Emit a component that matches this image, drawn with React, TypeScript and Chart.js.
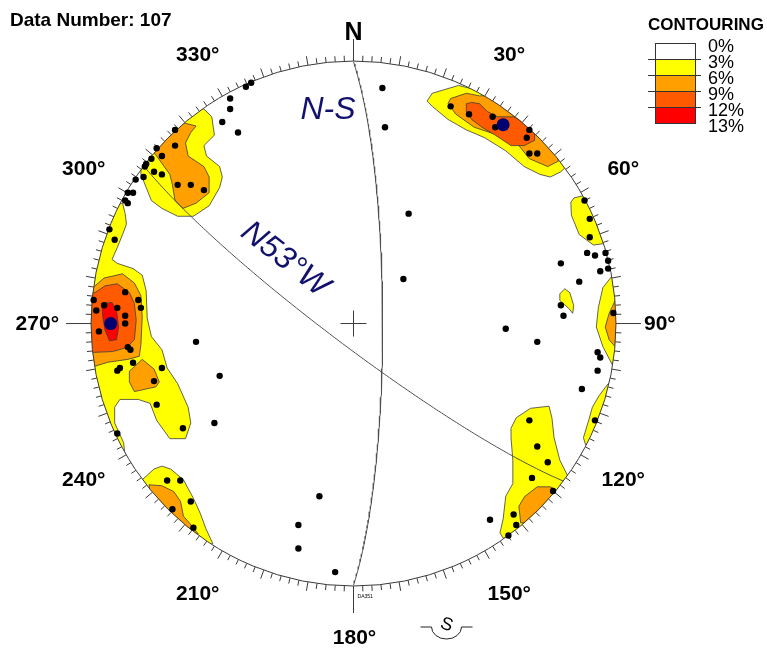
import React, { useEffect, useRef } from 'react';
import { Chart, registerables } from 'chart.js';

Chart.register(...registerables);

// ---------- data (projection units: primitive circle radius = 100, x = East, y = North) ----------
const TITLE = 'Data Number: 107';
const DIRECTION_LABELS = [30, 60, 120, 150, 210, 240, 300, 330];
const LEVEL_LABELS = ['0%', '3%', '6%', '9%', '12%', '13%'];
const LEVEL_COLORS = ['#ffffff', '#ffff00', '#ffa000', '#ff5a00', '#ff0000'];

const PLANE_NAMES = ['N-S', 'N53°W'];
const PLANE_DIP_DIRS = [90, 217];
const PLANE_DIPS = [81, 83];

const POLES: [number, number][] = [
  [-41, 90.5], [-39, 92], [-47, 86], [-47, 82], [-50, 77], [-44, 73], [-68, 74], [-68, 68], [-75, 67], [-73, 64],
  [-77, 63], [-79, 61], [-79.5, 60], [-76, 58], [-73, 57], [-80, 56], [-67, 53], [-62, 53], [-57, 51], [-83, 55],
  [-84, 50], [-86, 50], [-87, 47], [-86, 46], [11, 90], [12, 75], [37, 83], [44, 80], [53, 79], [54, 75],
  [67, 74], [66, 71], [67, 65], [70, 65], [21, 42], [88, 47], [90, 40], [90, 33], [89, 27], [92, 26],
  [96, 27], [79, 23], [97, 24], [97, 21], [94, 20], [86, 16], [79, 7], [80, 3], [99, 4], [58, -2],
  [70, -7], [93, -11], [94, -13], [93, -18], [87, -25], [67, -37], [92, -37], [70, -47], [74, -53], [68, -59],
  [76, -64], [61, -73], [52, -75], [62, -77], [59, -81], [-93, 36], [-91, 32], [-87, 12], [-99, 9], [-82, 9],
  [-81, 6], [-95, 7], [-98, 5], [-90, 6], [-87, 3], [-87, 0], [-97, -3], [-86, -9], [-85, -10], [-84, -15],
  [-89, -17], [-90, -18], [-73, -17], [-76, -22], [-60, -7], [-51, -20], [-75, -31], [-53, -38], [-65, -40], [-90, -42],
  [-71, -60], [-66, -60], [-62, -68], [-69, -71], [-61, -78], [-13, -66], [-21, -77], [-21, -86], [-7, -95], [19, 17],
];

const MEAN_POLES: [number, number][] = [[57, 76], [-92.5, 0]];

const CONTOUR_3: [number, number][][] = [
  [[44, 90], [40, 91], [30, 88], [28, 85], [30, 83], [36, 78], [43, 74], [50, 71], [58, 66], [65, 60], [71, 57], [75, 56], [79, 58], [81, 60], [74, 88]],
  [[-57, 82], [-54, 79], [-53, 72], [-57, 68], [-56, 64], [-51, 60], [-50, 56], [-51, 52], [-55, 45], [-61, 41], [-67, 41], [-73, 44], [-77, 47], [-79, 52], [-81, 57], [-81, 81]],
  [[-88, 46], [-87, 42], [-86.5, 38], [-88, 34], [-90, 29], [-92, 24.5], [-90, 23], [-84, 21], [-80.5, 18.5], [-79, 12.5], [-78.6, 2], [-77, -5], [-73, -10], [-71, -17], [-67, -23], [-63, -32], [-62, -38], [-64, -44], [-70, -44], [-75, -37], [-77.5, -30.5], [-82, -29], [-89, -29], [-91, -32], [-91, -38], [-87.6, -45.5], [-87, -51], [-113, -41], [-120, 0], [-113, 41]],
  [[84, 48], [88, 49], [104, 48.6], [109, 35.5], [95, 30.5], [91.4, 30], [86, 34], [83, 41.4], [82.8, 46.3]],
  [[98.5, 18.2], [95, 13.7], [93.3, 6.2], [92.5, -1.3], [95, -8.8], [98.9, -16.3], [115, -17], [115, 18]],
  [[78.6, 11.4], [80.5, 13.3], [82.4, 11.8], [83.9, 6.9], [83.5, 3.9], [82, 5.8], [78.6, 8.8]],
  [[97, -23], [93.6, -27.5], [91, -32], [89.5, -37.3], [87.6, -43.6], [88.4, -46.3], [104, -52], [112, -26]],
  [[60, -40], [62, -36], [67.4, -32.4], [74.5, -31.6], [75.6, -36.1], [76.4, -43.6], [78.6, -52.2], [81.5, -58], [83.4, -83.4], [57, -82], [55.8, -80], [57, -74.7], [58, -66], [60.7, -61.2], [60.7, -52.2], [60, -43.6]],
  [[-80.5, -59.7], [-76, -55.6], [-73, -54.5], [-69.7, -55.6], [-64.8, -59.7], [-61, -66.8], [-58.4, -72.5], [-56.2, -78.5], [-53.6, -84.1], [-75.8, -90.4]],
];

const CONTOUR_6: [number, number][][] = [
  [[48, 87], [43, 88], [37, 86], [36, 84], [39, 80], [46, 75], [55, 72], [63, 68], [67, 63], [74, 60], [78, 62], [74, 88]],
  [[-60, 75.5], [-62, 73], [-64, 69], [-63, 64], [-57, 60], [-55, 56], [-55, 50], [-60, 46], [-65, 44], [-68, 47], [-69, 53], [-70, 57], [-75, 64], [-80, 70], [-70, 78]],
  [[-99, 14], [-95, 17.4], [-88, 19], [-83.5, 15.5], [-81, 10.7], [-80.5, 2.4], [-81, -8], [-81.6, -12.5], [-86, -13.7], [-93.6, -14.8], [-98.5, -16.3], [-115, -17], [-115, 15]],
  [[-85.4, -18.2], [-80.5, -13.7], [-76, -17.4], [-74, -22.3], [-75.3, -24.2], [-83.5, -26], [-85.4, -22.3]],
  [[100, 9.5], [97.4, 3.9], [95.9, -1.3], [97.4, -6.2], [100, -9.2], [112, -9], [112, 10]],
  [[63.7, -76.2], [63, -69.8], [65.2, -66.1], [70, -62.4], [74.9, -62.4], [76.4, -63.1], [85, -75]],
  [[-77.9, -61.6], [-73, -62], [-68.5, -64.2], [-65.9, -68], [-64.8, -73.6], [-62.2, -76.6], [-59.2, -80.3], [-75, -88]],
];

const CONTOUR_9: [number, number][][] = [
  [[43, 84], [45, 84.5], [48, 84], [51, 81], [55, 79], [61, 79], [65, 77], [69, 73], [69, 70], [65, 68], [60, 68], [54, 72], [49, 75], [45, 78], [43, 81]],
  [[-98.5, 11.8], [-94.7, 14.4], [-90, 15.2], [-85.4, 11.8], [-83.5, 7.7], [-82.8, 1.3], [-83.5, -6.2], [-86.5, -9.2], [-91.8, -10.7], [-98.5, -11], [-112, -11], [-112, 12]],
];

const CONTOUR_12: [number, number][][] = [
  [[-95.9, 7.7], [-92, 8], [-90.3, 5], [-89.5, -1.3], [-90.3, -6.2], [-93, -6.6], [-94.7, -2.4], [-95.5, 2.4]],
];

// ---------- helpers ----------
const D2R = Math.PI / 180;
const FONT = '"Liberation Sans", Arial, Helvetica, sans-serif';

// equal-area (Schmidt) lower-hemisphere trace of a plane
function greatCircle(dipDir: number, dip: number) {
  const pts: { x: number; y: number }[] = [];
  const s = (dipDir - 90) * D2R;
  const dd = dipDir * D2R;
  const d = dip * D2R;
  for (let t = 0; t <= 180; t += 1) {
    const tr = t * D2R;
    const n = Math.cos(tr) * Math.cos(s) + Math.sin(tr) * Math.cos(dd) * Math.cos(d);
    const e = Math.cos(tr) * Math.sin(s) + Math.sin(tr) * Math.sin(dd) * Math.cos(d);
    const z = Math.sin(tr) * Math.sin(d);
    const plunge = Math.asin(Math.max(-1, Math.min(1, z)));
    const trend = Math.atan2(e, n);
    const r = 100 * Math.SQRT2 * Math.sin((Math.PI / 2 - plunge) / 2);
    pts.push({ x: r * Math.sin(trend), y: r * Math.cos(trend) });
  }
  return pts;
}

const stereoPlugin = {
  id: 'stereo',
  beforeDatasetsDraw(chart: any) {
    const ctx: CanvasRenderingContext2D = chart.ctx;
    const xs = chart.scales.x;
    const ys = chart.scales.y;
    const px = (v: number) => xs.getPixelForValue(v);
    const py = (v: number) => ys.getPixelForValue(v);
    const cx = px(0);
    const cy = py(0);
    const R = px(100) - cx;

    // contours, clipped to the primitive circle
    ctx.save();
    ctx.beginPath();
    ctx.arc(cx, cy, R, 0, Math.PI * 2);
    ctx.clip();
    [CONTOUR_3, CONTOUR_6, CONTOUR_9, CONTOUR_12].forEach((level, i) => {
      level.forEach((poly) => {
        ctx.beginPath();
        poly.forEach(([x, y], k) => (k ? ctx.lineTo(px(x), py(y)) : ctx.moveTo(px(x), py(y))));
        ctx.closePath();
        ctx.fillStyle = LEVEL_COLORS[i + 1];
        ctx.fill();
        ctx.strokeStyle = '#3c3c3c';
        ctx.lineWidth = 0.8;
        ctx.stroke();
      });
    });
    ctx.restore();

    // primitive circle + ticks
    ctx.save();
    ctx.strokeStyle = '#3a3a3a';
    ctx.lineWidth = 1;
    ctx.beginPath();
    ctx.arc(cx, cy, R, 0, Math.PI * 2);
    ctx.stroke();
    ctx.beginPath();
    for (let a = 0; a < 360; a += 2) {
      const sx = Math.sin(a * D2R);
      const sy = -Math.cos(a * D2R);
      let len = a % 10 === 0 ? 9 : 5.5;
      if (a === 0) len = 22;
      else if (a === 90 || a === 270) len = 25;
      else if (a === 180) len = 27;
      ctx.moveTo(cx + sx * R, cy + sy * R);
      ctx.lineTo(cx + sx * (R + len), cy + sy * (R + len));
    }
    ctx.stroke();

    // centre cross
    ctx.beginPath();
    ctx.moveTo(cx - 13, cy);
    ctx.lineTo(cx + 13, cy);
    ctx.moveTo(cx, cy - 13);
    ctx.lineTo(cx, cy + 13);
    ctx.stroke();
    ctx.restore();
  },
  afterDatasetsDraw(chart: any) {
    const ctx: CanvasRenderingContext2D = chart.ctx;
    const xs = chart.scales.x;
    const ys = chart.scales.y;
    const px = (v: number) => xs.getPixelForValue(v);
    const py = (v: number) => ys.getPixelForValue(v);
    const cx = px(0);
    const cy = py(0);
    const R = px(100) - cx;

    ctx.save();
    ctx.fillStyle = '#000';
    // N
    ctx.font = `bold 25px ${FONT}`;
    ctx.textAlign = 'center';
    ctx.textBaseline = 'alphabetic';
    ctx.fillText('N', cx, cy - R - 21);

    // direction labels
    ctx.font = `bold 21px ${FONT}`;
    ctx.textBaseline = 'middle';
    DIRECTION_LABELS.forEach((a) => {
      const r = R + 49;
      ctx.textAlign = 'center';
      ctx.fillText(`${a}°`, cx + Math.sin(a * D2R) * r, cy - Math.cos(a * D2R) * r + 1);
    });
    ctx.textAlign = 'left';
    ctx.fillText('90°', cx + R + 28, cy + 1);
    ctx.textAlign = 'right';
    ctx.fillText('270°', cx - R - 32, cy + 1);
    ctx.textAlign = 'center';
    ctx.fillText('180°', cx + 1, cy + R + 52);

    // tiny stamp near south
    ctx.font = `5px ${FONT}`;
    ctx.textAlign = 'left';
    ctx.fillText('DA351', cx + 4, cy + R + 11);

    // S symbol
    ctx.strokeStyle = '#222';
    ctx.lineWidth = 1;
    const sx0 = cx + 93;
    const sy0 = cy + R + 41;
    ctx.beginPath();
    ctx.moveTo(sx0 - 26, sy0);
    ctx.lineTo(sx0 - 15, sy0);
    ctx.ellipse(sx0, sy0, 15, 12, 0, Math.PI, 0, true);
    ctx.lineTo(sx0 + 26, sy0);
    ctx.stroke();
    ctx.save();
    ctx.translate(sx0, sy0 - 2);
    ctx.rotate(0.35);
    ctx.font = `18px ${FONT}`;
    ctx.textAlign = 'center';
    ctx.textBaseline = 'middle';
    ctx.fillText('S', 0, 0);
    ctx.restore();

    // plane labels
    ctx.fillStyle = '#12126e';
    ctx.font = `italic 32px ${FONT}`;
    ctx.textAlign = 'center';
    ctx.textBaseline = 'middle';
    ctx.fillText(PLANE_NAMES[0], px(-9.7), py(81.5));
    ctx.save();
    ctx.translate(px(-26.2), py(24.5));
    ctx.rotate(38 * D2R);
    ctx.fillText(PLANE_NAMES[1], 0, 0);
    ctx.restore();

    // title
    ctx.fillStyle = '#000';
    ctx.font = `bold 19px ${FONT}`;
    ctx.textAlign = 'left';
    ctx.textBaseline = 'alphabetic';
    ctx.fillText(TITLE, 10, 26);

    // legend
    ctx.font = `bold 17px ${FONT}`;
    ctx.fillText('CONTOURING', 648, 30);
    const bx = 655;
    const bw = 40;
    const top = 43;
    const rh = 16;
    LEVEL_COLORS.forEach((c, i) => {
      ctx.fillStyle = c;
      ctx.fillRect(bx, top + i * rh, bw, rh);
    });
    ctx.strokeStyle = '#333';
    ctx.lineWidth = 1;
    ctx.strokeRect(bx + 0.5, top + 0.5, bw, rh * LEVEL_COLORS.length);
    ctx.beginPath();
    for (let i = 1; i < LEVEL_COLORS.length; i++) {
      ctx.moveTo(648, top + i * rh + 0.5);
      ctx.lineTo(701, top + i * rh + 0.5);
    }
    ctx.stroke();
    ctx.fillStyle = '#000';
    ctx.font = `18px ${FONT}`;
    ctx.textBaseline = 'middle';
    LEVEL_LABELS.forEach((t, i) => {
      ctx.fillText(t, 708, top + 4 + i * rh);
    });
    ctx.restore();
  },
};

const W = 767;
const H = 651;
const UNIT = 2.67; // pixels per projection unit

export default function App() {
  const ref = useRef<HTMLCanvasElement>(null);

  useEffect(() => {
    if (!ref.current) return;
    const cxPx = 353;
    const cyPx = 323.5;
    const chart = new Chart(ref.current, {
      type: 'scatter',
      data: {
        datasets: [
          {
            label: 'Mean poles',
            data: MEAN_POLES.map(([x, y]) => ({ x, y })),
            pointRadius: 6.5,
            pointBackgroundColor: '#000070',
            pointBorderWidth: 0,
            showLine: false,
            order: 0,
          },
          {
            label: 'Poles',
            data: POLES.map(([x, y]) => ({ x, y })),
            pointRadius: 3.2,
            pointBackgroundColor: '#000000',
            pointBorderWidth: 0,
            showLine: false,
            order: 1,
          },
          ...PLANE_NAMES.map((name, i) => ({
            label: name,
            data: greatCircle(PLANE_DIP_DIRS[i], PLANE_DIPS[i]),
            showLine: true,
            pointRadius: 0,
            borderColor: '#505050',
            borderWidth: 1,
            fill: false,
            tension: 0,
            order: 2,
          })),
        ],
      },
      options: {
        animation: false,
        responsive: false,
        events: [],
        layout: { padding: 0 },
        plugins: { legend: { display: false }, tooltip: { enabled: false } },
        scales: {
          x: { type: 'linear', display: false, min: -cxPx / UNIT, max: (W - cxPx) / UNIT },
          y: { type: 'linear', display: false, min: -(H - cyPx) / UNIT, max: cyPx / UNIT },
        },
      },
      plugins: [stereoPlugin],
    } as any);
    return () => chart.destroy();
  }, []);

  return (
    <div style={{ position: 'absolute', left: 0, top: 0, width: W, height: H, background: '#fff' }}>
      <canvas ref={ref} width={W} height={H} style={{ display: 'block', width: W, height: H }} />
    </div>
  );
}
